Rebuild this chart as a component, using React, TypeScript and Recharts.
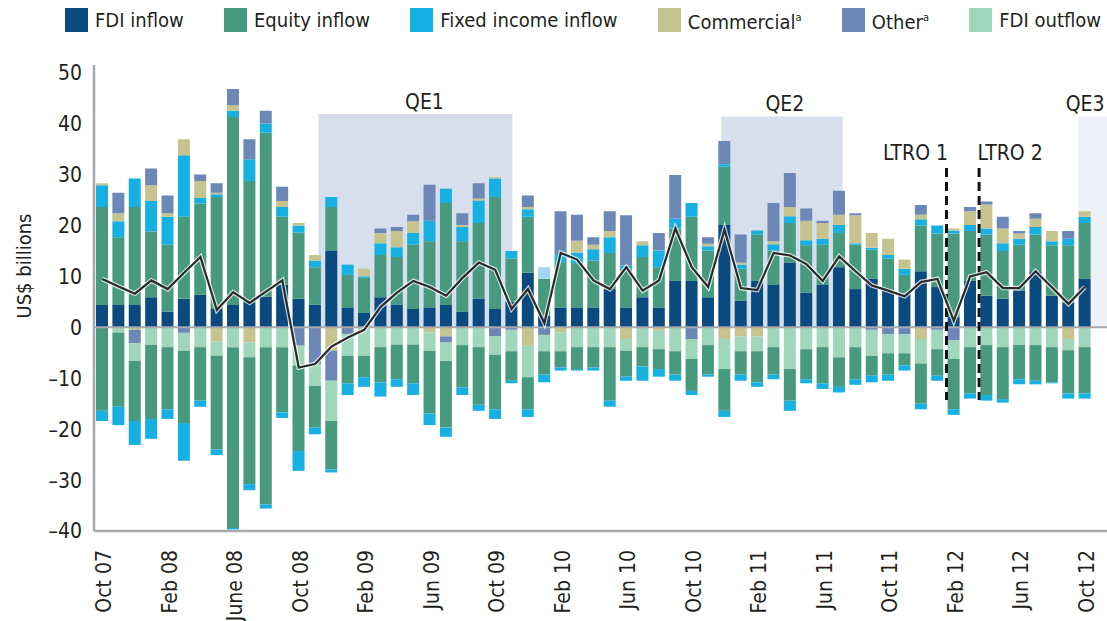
import { Bar, Cell, ComposedChart, Line, ReferenceArea, ReferenceLine, XAxis, YAxis } from 'recharts'

const FONT = '"Liberation Sans Narrow", "DejaVu Sans Condensed", "Roboto Condensed", Roboto, sans-serif'
const INK = '#231f20'

const C = {
  fdiIn: '#0b4a7f',
  equity: '#479a7d',
  fixed: '#17b0e2',
  fixedPale: '#a3d6ef',
  commercial: '#c6c48e',
  other: '#6c88b7',
  fdiOut: '#a0d6bb',
  axis: '#a7a9ac',
  qe: '#d8dfec',
  qeLight: '#eef1f7',
}

const months = [
  'Oct 07', 'Nov 07', 'Dec 07',
  'Jan 08', 'Feb 08', 'Mar 08', 'Apr 08', 'May 08', 'June 08', 'Jul 08', 'Aug 08', 'Sep 08', 'Oct 08', 'Nov 08', 'Dec 08',
  'Jan 09', 'Feb 09', 'Mar 09', 'Apr 09', 'May 09', 'Jun 09', 'Jul 09', 'Aug 09', 'Sep 09', 'Oct 09', 'Nov 09', 'Dec 09',
  'Jan 10', 'Feb 10', 'Mar 10', 'Apr 10', 'May 10', 'Jun 10', 'Jul 10', 'Aug 10', 'Sep 10', 'Oct 10', 'Nov 10', 'Dec 10',
  'Jan 11', 'Feb 11', 'Mar 11', 'Apr 11', 'May 11', 'Jun 11', 'Jul 11', 'Aug 11', 'Sep 11', 'Oct 11', 'Nov 11', 'Dec 11',
  'Jan 12', 'Feb 12', 'Mar 12', 'Apr 12', 'May 12', 'Jun 12', 'Jul 12', 'Aug 12', 'Sep 12', 'Oct 12',
]

// inflows, stacked upwards (US$ bn)
const fdiInflow = [
  4.4, 4.4, 4.4, 5.9, 3.1, 5.6, 6.4, 3.6, 4.4, 5.2,
  6.0, 8.4, 5.6, 4.4, 15.0, 3.9, 2.8, 5.9, 4.4, 3.6,
  3.9, 4.4, 3.1, 5.6, 3.6, 5.0, 10.7, 2.3, 3.9, 3.9,
  3.9, 7.5, 3.9, 5.9, 3.9, 9.1, 9.1, 5.9, 20.1, 5.2,
  9.1, 8.3, 12.7, 6.8, 8.3, 11.8, 7.5, 9.5, 7.2, 6.6,
  11.0, 7.9, 2.0, 9.1, 6.2, 5.6, 7.2, 11.0, 6.2, 4.9,
  9.5,
]
const equityInflow = [
  19.2, 13.3, 19.2, 12.9, 13.1, 16.1, 17.9, 22.0, 36.9, 23.5,
  32.2, 13.3, 13.0, 7.4, 8.6, 6.4, 6.9, 8.3, 9.4, 12.6,
  13.0, 20.0, 13.8, 14.9, 22.0, 8.5, 11.0, 7.2, 8.9, 8.7,
  9.2, 7.1, 7.6, 7.9, 7.9, 10.3, 12.6, 9.2, 11.4, 6.3,
  9.1, 6.8, 7.8, 9.3, 7.9, 6.7, 8.7, 5.7, 6.3, 3.7,
  9.0, 10.5, 16.4, 9.8, 12.0, 9.4, 9.0, 7.2, 9.9, 11.2,
  11.0,
]
const fixedIncomeInflow = [
  4.3, 3.1, 5.6, 6.0, 5.5, 12.1, 1.1, 0.5, 1.2, 4.3,
  1.8, 1.9, 1.4, 1.3, 2.0, 2.0, 0.3, 2.3, 1.9, 2.3,
  4.0, 2.8, 2.8, 4.4, 3.6, 1.5, 1.5, 2.3, 1.6, 2.1,
  2.2, 3.1, 0.6, 2.3, 3.3, 1.9, 2.7, 0.8, 0.5, 0.8,
  0.8, 1.2, 1.3, 1.0, 1.2, 1.6, 0.3, 0.4, 0.7, 1.2,
  1.2, 1.6, 0.6, 1.2, 1.2, 1.5, 1.2, 1.5, 0.8, 1.3,
  1.2,
]
const commercialInflow = [
  0.4, 1.6, 0, 3.1, 0.7, 3.1, 3.3, 0.3, 1.1, 0,
  0, 1.2, 0.5, 1.1, 0, 0, 1.5, 2.0, 3.2, 2.3,
  0, 0, 0.4, 0.4, 0.3, 0, 0.4, 0, 0, 2.3,
  0.9, 1.2, 0, 0.8, 0, 0, 0, 0.5, 0, 0.4,
  0, 0.6, 1.8, 3.8, 3.1, 2.0, 5.5, 2.9, 3.2, 1.8,
  0.9, 0, 0.4, 2.7, 4.7, 2.9, 1.0, 1.6, 2.0, 0,
  1.1,
]
const otherInflow = [
  0, 4.0, 0, 3.3, 3.5, 0, 1.3, 1.9, 3.2, 3.9,
  2.5, 2.8, 0, 0, 0, 0, 0, 0.9, 0.8, 1.3,
  7.1, 0, 2.3, 3.0, 0, 0, 2.3, 0, 8.4, 5.1,
  1.5, 3.9, 9.9, 0, 3.4, 8.6, 0, 1.3, 4.6, 5.5,
  0, 7.5, 6.7, 2.4, 0.4, 4.7, 0.4, 0, 0, 0,
  1.9, 0, 0, 0.8, 0.6, 2.3, 0.5, 1.1, 0, 1.5,
  0,
]

// outflows, stacked downwards
const commercialOutflow = [
  0, 0, -0.5, 0, 0, 0, 0, -2.8, 0, -3.0,
  0, 0, 0, 0, -4.6, 0, 0, 0, 0, 0,
  -1.0, -1.8, 0, 0, 0, 0, -3.5, 0, -1.0, 0,
  0, 0, -2.3, 0, -0.7, 0, 0, 0, -2.3, -1.8,
  -1.8, 0, 0, 0, 0, 0, 0, 0, 0, 0,
  -2.3, 0, 0, 0, 0, 0, 0, 0, 0, -2.3,
  0,
]
const otherOutflow = [
  0, 0, -2.6, 0, 0, -1.1, 0, 0, 0, 0,
  0, 0, -3.6, -7.2, -5.9, -1.3, 0, 0, 0, 0,
  0, -1.2, 0, 0, -1.8, -0.5, 0, -1.5, 0, 0,
  0, 0, 0, 0, 0, 0, -2.3, 0, 0, 0,
  0, 0, 0, 0, 0, 0, 0, -0.5, -1.4, -1.4,
  0, -0.5, -2.6, 0, 0, 0, 0, 0, 0, 0,
  0,
]
const fdiOutflow = [
  0, -1.0, -3.5, -3.5, -3.9, -3.5, -3.9, -2.8, -3.9, -2.9,
  -3.9, -3.9, -3.9, -4.3, -7.9, -4.3, -5.6, -3.9, -3.4, -3.4,
  -3.6, -3.6, -3.5, -3.9, -3.6, -4.2, -6.3, -3.2, -3.7, -3.9,
  -3.9, -3.9, -2.3, -3.9, -3.6, -4.7, -3.9, -3.5, -5.9, -2.9,
  -2.9, -3.9, -8.2, -4.3, -3.9, -5.9, -3.9, -5.1, -3.7, -3.7,
  -4.8, -3.8, -3.6, -3.9, -3.5, -3.9, -3.5, -3.5, -3.9, -2.2,
  -3.9,
]
const equityOutflow = [
  -16.4, -14.6, -11.8, -14.5, -12.2, -14.2, -10.5, -18.4, -35.5, -24.9,
  -30.9, -12.8, -16.8, -8.2, -9.5, -5.4, -4.2, -6.9, -6.8, -7.6,
  -12.3, -13.1, -8.3, -11.3, -10.7, -5.8, -6.3, -4.6, -3.2, -4.3,
  -4.0, -10.5, -5.1, -3.8, -3.9, -4.6, -6.3, -5.8, -8.2, -4.6,
  -6.1, -5.4, -6.2, -5.9, -7.1, -5.8, -6.3, -3.9, -4.2, -2.4,
  -7.9, -5.2, -9.9, -9.1, -9.8, -10.2, -6.7, -7.0, -6.9, -8.5,
  -9.1,
]
const fixedIncomeOutflow = [
  -2.0, -3.6, -4.7, -3.9, -1.9, -7.4, -1.2, -1.1, -0.3, -1.2,
  -0.8, -1.1, -3.9, -1.3, -0.6, -2.3, -1.9, -2.8, -1.5, -2.3,
  -2.3, -1.8, -1.5, -1.2, -1.9, -0.5, -1.5, -1.5, -0.6, -0.3,
  -0.6, -1.2, -0.8, -2.8, -1.5, -1.2, -0.8, -0.4, -1.2, -1.2,
  -0.9, -0.9, -2.0, -0.8, -1.1, -1.1, -1.1, -1.3, -1.2, -1.0,
  -1.1, -1.0, -1.1, -1.0, -1.1, -0.7, -1.0, -0.7, -0.2, -1.0,
  -1.0,
]

// net flows (line)
const netFlow = [
  9.5, 8.0, 6.6, 9.2, 7.5, 10.7, 13.8, 3.4, 6.9, 4.8,
  7.0, 9.2, -7.9, -7.2, -3.8, -2.0, -0.5, 4.0, 6.8, 9.1,
  7.9, 6.2, 9.7, 12.7, 11.3, 3.6, 7.5, 0.8, 14.6, 13.3,
  9.2, 7.5, 11.8, 7.2, 9.2, 19.4, 11.8, 7.9, 19.2, 7.7,
  7.3, 14.6, 14.1, 12.4, 9.1, 13.9, 11.0, 8.2, 7.2, 6.1,
  8.9, 9.5, 1.3, 10.0, 10.8, 7.7, 7.7, 11.0, 7.8, 4.6,
  7.9,
]

// policy episodes, in month-index units (0 = Oct 07)
const qePeriods = [
  { name: 'QE1', from: 13.2, to: 25.05, top: 41.9 },
  { name: 'QE2', from: 37.8, to: 45.2, top: 41.4 },
  { name: 'QE3', from: 59.6, to: 61.4, top: 41.4 },
]
const ltroEvents = [
  { name: 'LTRO 1', at: 51.55, top: 31.3, bottom: -14.3 },
  { name: 'LTRO 2', at: 53.54, top: 31.3, bottom: -14.3 },
]

const yTicks = [-40, -30, -20, -10, 0, 10, 20, 30, 40, 50]

const data = months.map((month, i) => ({
  month,
  fdiIn: fdiInflow[i],
  equityIn: equityInflow[i],
  fixedIn: fixedIncomeInflow[i],
  commercialIn: commercialInflow[i],
  otherIn: otherInflow[i],
  commercialOut: commercialOutflow[i],
  otherOut: otherOutflow[i],
  fdiOut: fdiOutflow[i],
  equityOut: equityOutflow[i],
  fixedOut: fixedIncomeOutflow[i],
  net: netFlow[i],
}))

const legendItems = [
  { label: 'FDI inflow', color: C.fdiIn },
  { label: 'Equity inflow', color: C.equity },
  { label: 'Fixed income inflow', color: C.fixed },
  { label: 'Commercial', note: 'a', color: C.commercial },
  { label: 'Other', note: 'a', color: C.other },
  { label: 'FDI outflow', color: C.fdiOut },
]

// label nudges for the annotations
const qeStyle: Record<string, { fill: string; dx: number }> = {
  QE1: { fill: C.qe, dx: 9 },
  QE2: { fill: C.qe, dx: 3 },
  QE3: { fill: C.qeLight, dx: -8 },
}
const ltroDx: Record<string, number> = { 'LTRO 1': -31, 'LTRO 2': 31 }

function MonthTick(props: any) {
  const { x, y, payload } = props
  return (
    <text x={x + 2} y={y} transform={`rotate(-90 ${x + 2} ${y})`} textAnchor="end" dominantBaseline="central" fontSize={21} fill={INK}>
      {payload.value}
    </text>
  )
}

function AxisTitle(props: any) {
  const vb = props.viewBox || {}
  const x = (vb.x ?? 0) + 24
  const y = (vb.y ?? 0) + (vb.height ?? 0) / 2 - 32
  return (
    <text x={x} y={y} transform={`rotate(-90 ${x} ${y})`} textAnchor="middle" dominantBaseline="central" fontSize={20} fill={INK}>
      US$ billions
    </text>
  )
}

const fmtY = (v: number) => (v < 0 ? `–${-v}` : `${v}`)

export default function App() {
  return (
    <div style={{ position: 'absolute', left: 0, top: 0, width: 1107, height: 621, fontFamily: FONT, background: '#fff' }}>
      <div
        style={{
          position: 'absolute',
          left: 65,
          top: 6,
          width: 1036,
          display: 'flex',
          justifyContent: 'space-between',
          alignItems: 'center',
          whiteSpace: 'nowrap',
        }}
      >
        {legendItems.map((it) => (
          <div key={it.label} style={{ display: 'flex', alignItems: 'center', gap: 7 }}>
            <span style={{ width: 23, height: 24, background: it.color, display: 'inline-block' }} />
            <span style={{ fontSize: 20, color: INK, lineHeight: '24px' }}>
              {it.label}
              {it.note ? <sup style={{ fontSize: 11 }}>{it.note}</sup> : null}
            </span>
          </div>
        ))}
      </div>
      <ComposedChart
        width={1107}
        height={621}
        data={data}
        margin={{ top: 65, right: 0, bottom: 0, left: 0 }}
        stackOffset="sign"
        barCategoryGap={2}
      >
        <XAxis
          dataKey="month"
          interval={3}
          height={90}
          tickLine={false}
          tickMargin={13}
          padding={{ left: 0, right: 14 }}
          axisLine={{ stroke: C.axis, strokeWidth: 2.5 }}
          tick={(p: any) => <MonthTick {...p} />}
        />
        {/* hidden month-index axis (bar centres 0..60) for the shaded episodes and event lines */}
        <XAxis xAxisId="n" type="number" domain={[0, 60]} allowDataOverflow hide padding={{ left: 8.2, right: 22.1 }} />
        <YAxis
          type="number"
          domain={[-40, 51.5]}
          ticks={yTicks}
          allowDataOverflow
          width={94}
          tickLine={false}
          tickMargin={6}
          tickFormatter={fmtY}
          axisLine={{ stroke: C.axis, strokeWidth: 2.5 }}
          tick={{ fontSize: 21, fill: INK }}
          label={{ content: (p: any) => <AxisTitle {...p} /> }}
        />

        {qePeriods.map((q) => (
          <ReferenceArea
            key={q.name}
            xAxisId="n"
            x1={q.from}
            x2={q.to}
            y1={0}
            y2={q.top}
            fill={qeStyle[q.name].fill}
            fillOpacity={1}
            stroke="none"
            ifOverflow="visible"
            label={{ value: q.name, position: 'top', fontSize: 21, fill: INK, dx: qeStyle[q.name].dx }}
          />
        ))}

        <Bar dataKey="fdiIn" stackId="s" fill={C.fdiIn} isAnimationActive={false} />
        <Bar dataKey="equityIn" stackId="s" fill={C.equity} isAnimationActive={false} />
        <Bar dataKey="fixedIn" stackId="s" fill={C.fixed} isAnimationActive={false}>
          {months.map((m, i) => (
            <Cell key={m} fill={i === 27 ? C.fixedPale : C.fixed} />
          ))}
        </Bar>
        <Bar dataKey="commercialIn" stackId="s" fill={C.commercial} isAnimationActive={false} />
        <Bar dataKey="otherIn" stackId="s" fill={C.other} isAnimationActive={false} />
        <Bar dataKey="commercialOut" stackId="s" fill={C.commercial} isAnimationActive={false} />
        <Bar dataKey="otherOut" stackId="s" fill={C.other} isAnimationActive={false} />
        <Bar dataKey="fdiOut" stackId="s" fill={C.fdiOut} isAnimationActive={false} />
        <Bar dataKey="equityOut" stackId="s" fill={C.equity} isAnimationActive={false} />
        <Bar dataKey="fixedOut" stackId="s" fill={C.fixed} isAnimationActive={false} />

        <ReferenceLine y={0} stroke={C.axis} strokeWidth={2} />

        {ltroEvents.map((e) => (
          <ReferenceLine
            key={e.name}
            xAxisId="n"
            segment={[{ x: e.at, y: e.top }, { x: e.at, y: e.bottom }]}
            stroke="#111"
            strokeWidth={3}
            strokeDasharray="9 5"
            label={{ value: e.name, position: 'top', fontSize: 21, fill: INK, dx: ltroDx[e.name], offset: 8 }}
          />
        ))}

        {/* net flow: dark line on a pale halo */}
        <Line dataKey="net" type="linear" stroke="#ffffff" strokeWidth={4.6} strokeOpacity={0.75} dot={false} activeDot={false} isAnimationActive={false} />
        <Line dataKey="net" type="linear" stroke="#2b2b2b" strokeWidth={2.2} dot={false} activeDot={false} isAnimationActive={false} />
      </ComposedChart>
    </div>
  )
}
